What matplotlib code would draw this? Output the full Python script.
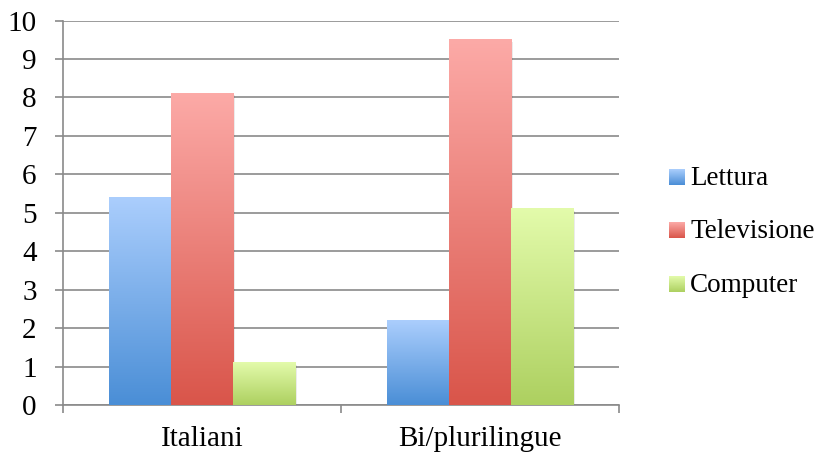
import numpy as np
import matplotlib.pyplot as plt
from matplotlib.colors import LinearSegmentedColormap
from matplotlib.patches import Rectangle
from matplotlib.legend_handler import HandlerBase
from matplotlib.image import BboxImage
from matplotlib.transforms import Bbox, TransformedBbox

# data
categories = ['Italiani', 'Bi/plurilingue']
series_names = ['Lettura', 'Televisione', 'Computer']
lettura = [5.4, 2.2]
televisione = [8.1, 9.5]
computer = [1.1, 5.1]

# (top colour, bottom colour) for each series
gradients = [('#abcefd', '#4a8ed6'), ('#fcaaa7', '#d9554a'), ('#e3fbab', '#add060')]

plt.rcParams['font.family'] = ['Liberation Serif', 'DejaVu Serif']
FS = 21
LEG_FS = 19.5

fig = plt.figure(figsize=(8.21, 4.54), dpi=100)
ax = fig.add_axes([63 / 821, 49 / 454, 556 / 821, 384.5 / 454])

grid_col = '#8a8a8a'
width = 0.224
x = np.arange(len(categories))
cmaps = [LinearSegmentedColormap.from_list(n, [b, t]) for n, (t, b) in zip(series_names, gradients)]
grad = np.linspace(0, 1, 256).reshape(-1, 1)

for i, (vals, cmap) in enumerate(zip([lettura, televisione, computer], cmaps)):
    bars = ax.bar(x + (i - 1) * width, vals, width, facecolor='none', edgecolor='none', zorder=3)
    for b in bars:
        x0, h = b.get_x(), b.get_height()
        ax.imshow(grad, extent=[x0, x0 + width, 0, h], origin='lower', cmap=cmap,
                  aspect='auto', zorder=3, interpolation='bilinear')
        # soft drop shadow
        ax.add_patch(Rectangle((x0 + 0.006, -0.05), width, h, facecolor='black', alpha=0.08,
                               edgecolor='none', zorder=2.5))

ax.set_xlim(-0.5, 1.5)
ax.set_ylim(0, 10)
ax.set_yticks(range(0, 11))
ax.yaxis.grid(True, color=grid_col, linewidth=1.2, zorder=0)
ax.set_axisbelow(True)

ax.set_xticks([-0.5, 0.5, 1.5])
ax.set_xticklabels([])
ax.set_xticks(x, minor=True)
ax.set_xticklabels(categories, minor=True)
ax.tick_params(axis='x', which='minor', length=0, pad=15, labelsize=FS)
ax.tick_params(axis='x', which='major', length=6, width=1.2, color=grid_col)
ax.tick_params(axis='y', length=6, width=1.2, color=grid_col, pad=13, labelsize=FS)

for s in ['top', 'right']:
    ax.spines[s].set_visible(False)
for s in ['left', 'bottom']:
    ax.spines[s].set_color(grid_col)
    ax.spines[s].set_linewidth(1.2)


class GradientHandler(HandlerBase):
    def __init__(self, cmap):
        super().__init__()
        self.cmap = cmap

    def create_artists(self, legend, orig_handle, xdescent, ydescent, width, height, fontsize, trans):
        side = width
        bb = Bbox.from_bounds(-xdescent, -ydescent, side, side)
        img = BboxImage(TransformedBbox(bb, trans), cmap=self.cmap, interpolation='bilinear', origin='lower')
        img.set_data(grad)
        return [img]


handles = [Rectangle((0, 0), 1, 1) for _ in series_names]
fig.legend(handles, series_names, loc='center left', bbox_to_anchor=(669 / 821, 1 - 232 / 454),
           frameon=False, fontsize=LEG_FS, handlelength=0.56, handletextpad=0.22, labelspacing=1.05,
           borderpad=0, borderaxespad=0,
           handler_map={h: GradientHandler(c) for h, c in zip(handles, cmaps)})

fig.savefig('out.png', dpi=100)
